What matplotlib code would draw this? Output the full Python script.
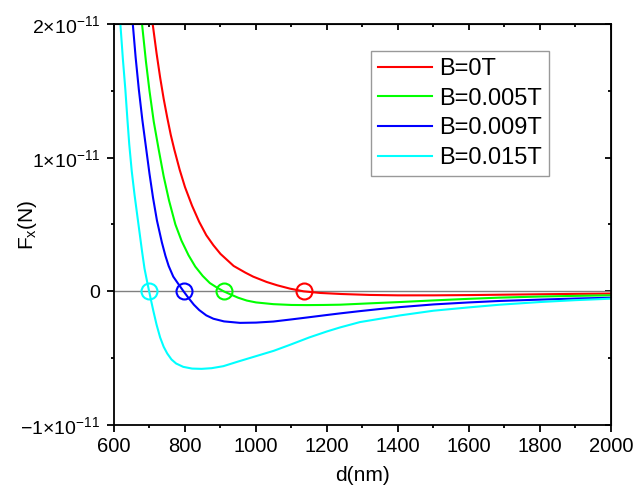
import numpy as np
import matplotlib
matplotlib.use("Agg")
import matplotlib.pyplot as plt
from matplotlib.ticker import MultipleLocator, FuncFormatter

plt.rcParams['font.family'] = ['Liberation Sans', 'DejaVu Sans']
plt.rcParams['mathtext.fontset'] = 'custom'
plt.rcParams['mathtext.rm'] = 'Liberation Sans'

# values, d in nm, F in units of 1e-11 N
d_0 = [709, 720, 730, 740, 750, 760, 770, 785, 800, 820, 840, 860, 880, 900, 937,
       970, 992, 1030, 1060, 1096, 1134, 1180, 1240, 1320, 1400, 1500, 1600, 1700,
       1800, 1900, 2000]
f_0 = [2.0, 1.78, 1.60, 1.44, 1.30, 1.17, 1.06, 0.91, 0.78, 0.64, 0.52, 0.42, 0.345,
       0.28, 0.19, 0.14, 0.11, 0.07, 0.045, 0.02, 0.0, -0.012, -0.02, -0.027, -0.03,
       -0.03, -0.028, -0.025, -0.022, -0.019, -0.017]

d_005 = [679, 690, 700, 712, 726, 740, 755, 773, 790, 810, 829, 850, 870, 890, 909,
         930, 950, 974, 1000, 1049, 1100, 1143, 1190, 1237, 1320, 1406, 1500, 1600,
         1687, 1800, 1900, 2000]
f_005 = [2.0, 1.72, 1.50, 1.27, 1.06, 0.86, 0.68, 0.50, 0.38, 0.27, 0.185, 0.115,
         0.062, 0.028, 0.0, -0.025, -0.048, -0.069, -0.083, -0.096, -0.102, -0.103,
         -0.102, -0.10, -0.09, -0.08, -0.068, -0.056, -0.047, -0.039, -0.034, -0.03]

d_009 = [653, 661, 670, 680, 690, 700, 710, 721, 735, 745, 754, 767, 780, 796, 810,
         825, 840, 860, 880, 910, 955, 1000, 1049, 1100, 1143, 1200, 1237, 1293, 1350,
         1406, 1500, 1600, 1687, 1800, 1900, 2000]
f_009 = [2.0, 1.75, 1.51, 1.28, 1.08, 0.88, 0.70, 0.53, 0.365, 0.265, 0.19, 0.11,
         0.06, 0.0, -0.05, -0.10, -0.14, -0.18, -0.205, -0.225, -0.236, -0.234,
         -0.226, -0.21, -0.196, -0.177, -0.165, -0.148, -0.132, -0.118, -0.098,
         -0.083, -0.072, -0.062, -0.054, -0.048]

d_015 = [618, 625, 632, 638, 643, 650, 658, 665, 672, 679, 686, 692, 699, 705, 711,
         720, 730, 740, 750, 762, 775, 795, 820, 847, 875, 908, 950, 1000, 1050, 1096,
         1150, 1200, 1237, 1293, 1350, 1406, 1500, 1600, 1687, 1800, 1900, 2000]
f_015 = [2.0, 1.74, 1.51, 1.28, 1.10, 0.90, 0.72, 0.58, 0.44, 0.30, 0.17, 0.09, 0.0,
         -0.075, -0.148, -0.25, -0.345, -0.415, -0.465, -0.51, -0.54, -0.565, -0.578,
         -0.58, -0.575, -0.56, -0.525, -0.485, -0.445, -0.40, -0.345, -0.30, -0.27,
         -0.23, -0.205, -0.18, -0.145, -0.12, -0.10, -0.08, -0.066, -0.055]

labels = ['B=0T', 'B=0.005T', 'B=0.009T', 'B=0.015T']
colors = ['#ff0000', '#00ff00', '#0000ff', '#00ffff']
zero_d = [1134, 909, 796, 699]

curves = [(d_0, f_0), (d_005, f_005), (d_009, f_009), (d_015, f_015)]

fig = plt.figure(figsize=(6.35, 4.94), dpi=100)
ax = fig.add_axes([0.1795, 0.1397, 0.7827, 0.8117])

ax.axhline(0, color='#808080', lw=1.0, zorder=1)
for (d, f), c, lab, z in zip(curves, colors, labels, zero_d):
    ax.plot(d, np.array(f) * 1e-11, color=c, lw=1.5, label=lab, zorder=2)
    ax.plot([z], [0], 'o', ms=11.5, mfc='none', mec=c, mew=1.5, zorder=3)

ax.set_xlim(600, 2000)
ax.set_ylim(-1e-11, 2e-11)

ax.xaxis.set_major_locator(MultipleLocator(200))
ax.xaxis.set_minor_locator(MultipleLocator(100))
ax.yaxis.set_major_locator(MultipleLocator(1e-11))
ax.yaxis.set_minor_locator(MultipleLocator(0.5e-11))

def yfmt(v, pos):
    n = int(round(v / 1e-11))
    if n == 0:
        return '0'
    return r'$\mathregular{%d{\times}10^{-11}}$' % n

ax.yaxis.set_major_formatter(FuncFormatter(yfmt))

for s in ax.spines.values():
    s.set_linewidth(1.3)
ax.tick_params(which='major', direction='out', length=5, width=1.3, labelsize=14.5)
ax.tick_params(which='minor', direction='out', length=2.5, width=1.3)
ax.tick_params(axis='y', which='major', pad=5, labelsize=14)
ax.tick_params(axis='x', which='major', pad=4)

top = ax.secondary_xaxis('top')
top.xaxis.set_major_locator(MultipleLocator(200))
top.xaxis.set_minor_locator(MultipleLocator(100))
top.tick_params(which='major', direction='in', length=4, width=1.3, labeltop=False)
top.tick_params(which='minor', direction='in', length=2, width=1.3)
right = ax.secondary_yaxis('right')
right.yaxis.set_major_locator(MultipleLocator(1e-11))
right.yaxis.set_minor_locator(MultipleLocator(0.5e-11))
right.tick_params(which='major', direction='in', length=4, width=1.3, labelright=False)
right.tick_params(which='minor', direction='in', length=2, width=1.3)

ax.set_xlabel('d(nm)', fontsize=15, labelpad=7)
ax.set_ylabel(r'F$_\mathregular{x}$(N)', fontsize=15)
ax.yaxis.set_label_coords(-0.15, 0.5)

leg = ax.legend(loc='upper right', bbox_to_anchor=(0.875, 0.9334), borderaxespad=0,
                fontsize=17, handlelength=2.3, handletextpad=0.3, labelspacing=0.33,
                fancybox=False, edgecolor='#999999', framealpha=1, borderpad=0.3)
leg.get_frame().set_linewidth(1.0)

fig.savefig('out.png', dpi=100)
